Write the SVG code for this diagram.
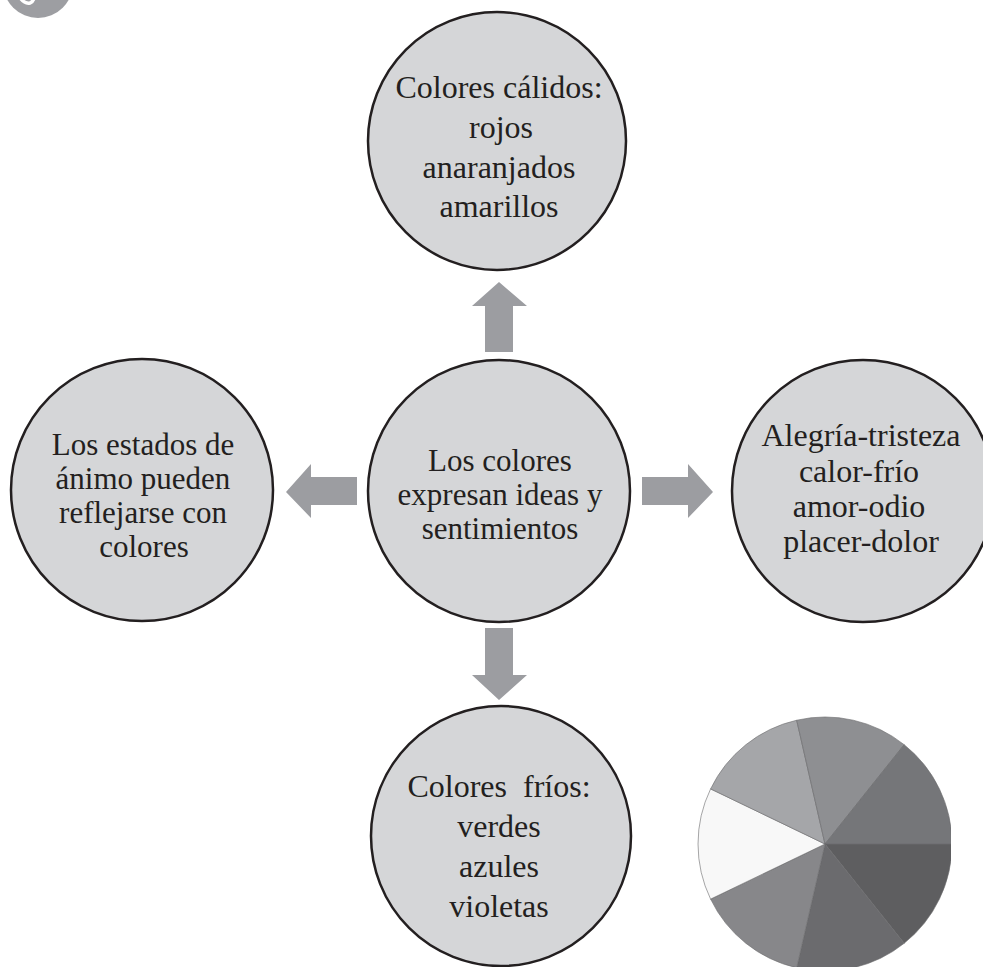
<svg xmlns="http://www.w3.org/2000/svg" width="983" height="967" viewBox="0 0 983 967">
  <style>
    .node { fill: #d5d6d8; stroke: #231f20; stroke-width: 2.5; }
    .lbl { font-family: "Liberation Serif", "Times New Roman", serif; font-size: 32px; fill: #231f20; text-anchor: middle; }
    .sm { font-size: 31px; }
    .arrow { fill: #9c9da1; }
    .slice { stroke: #6a6a6c; stroke-width: 0.6; }
  </style>
  <rect width="983" height="967" fill="#ffffff"/>

  <g id="badge">
    <circle cx="38" cy="-17" r="35" fill="#9d9ea2"/>
    <path d="M21 -1 Q25 4 30 3 Q33 2 34 -2" fill="none" stroke="#ffffff" stroke-width="3.5" stroke-linecap="round"/>
  </g>

  <g id="connectors">
    <polygon class="arrow" points="499,282 527,306 513,306 513,352 485,352 485,306 472,306"/>
    <polygon class="arrow" points="286,492 311,464 311,477 357,477 357,505 311,505 311,518"/>
    <polygon class="arrow" points="713,492 688,464 688,477 642,477 642,505 688,505 688,518"/>
    <polygon class="arrow" points="499,700 527,675 513,675 513,628 485,628 485,675 472,675"/>
  </g>

  <g id="node-top">
    <circle class="node" cx="497" cy="141" r="129"/>
    <text class="lbl" x="499" y="98">Colores cálidos:</text>
    <text class="lbl" x="501" y="138">rojos</text>
    <text class="lbl" x="499" y="178">anaranjados</text>
    <text class="lbl" x="499" y="217">amarillos</text>
  </g>

  <g id="node-center">
    <circle class="node" cx="499" cy="491" r="131"/>
    <text class="lbl sm" x="500" y="471">Los colores</text>
    <text class="lbl sm" x="500" y="505">expresan ideas y</text>
    <text class="lbl sm" x="500" y="539">sentimientos</text>
  </g>

  <g id="node-left">
    <circle class="node" cx="142" cy="490" r="131"/>
    <text class="lbl sm" x="143" y="455">Los estados de</text>
    <text class="lbl sm" x="143" y="489">ánimo pueden</text>
    <text class="lbl sm" x="143" y="523">reflejarse con</text>
    <text class="lbl sm" x="144" y="557">colores</text>
  </g>

  <g id="node-right">
    <circle class="node" cx="863" cy="491" r="131"/>
    <text class="lbl" x="861" y="446">Alegría-tristeza</text>
    <text class="lbl" x="859" y="482">calor-frío</text>
    <text class="lbl" x="859" y="517">amor-odio</text>
    <text class="lbl" x="861" y="552">placer-dolor</text>
  </g>

  <g id="node-bottom">
    <circle class="node" cx="501" cy="836" r="130"/>
    <text class="lbl" x="499" y="797" xml:space="preserve">Colores  fríos:</text>
    <text class="lbl" x="499" y="837">verdes</text>
    <text class="lbl" x="499" y="877">azules</text>
    <text class="lbl" x="499" y="917">violetas</text>
  </g>

  <defs>
    <clipPath id="pieClip"><rect x="0" y="0" width="951" height="967"/></clipPath>
  </defs>
  <g id="pie" clip-path="url(#pieClip)">
    <path class="slice" fill="#5e5e60" d="M825 844 L952 844 A127 127 0 0 1 904.2 943.3 Z"/>
    <path class="slice" fill="#6b6b6e" d="M825 844 L904.2 943.3 A127 127 0 0 1 796.7 967.8 Z"/>
    <path class="slice" fill="#87878a" d="M825 844 L796.7 967.8 A127 127 0 0 1 710.6 899.1 Z"/>
    <path class="slice" fill="#f8f8f8" d="M825 844 L710.6 899.1 A127 127 0 0 1 710.6 788.9 Z"/>
    <path class="slice" fill="#a5a6a9" d="M825 844 L710.6 788.9 A127 127 0 0 1 796.7 720.2 Z"/>
    <path class="slice" fill="#8e8f92" d="M825 844 L796.7 720.2 A127 127 0 0 1 904.2 744.7 Z"/>
    <path class="slice" fill="#757679" d="M825 844 L904.2 744.7 A127 127 0 0 1 952 844 Z"/>
  </g>
</svg>
